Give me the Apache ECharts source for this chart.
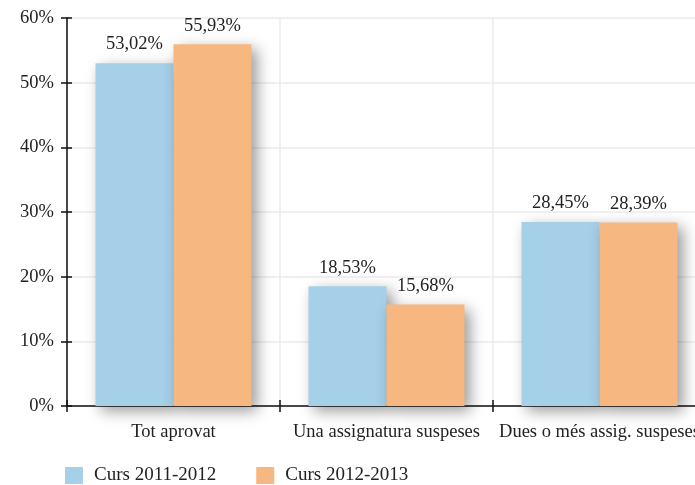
<!DOCTYPE html>
<html><head><meta charset="utf-8">
<script src="https://cdn.jsdelivr.net/npm/echarts@6/dist/echarts.min.js"></script>
<style>html,body{margin:0;padding:0;background:#fff}#c{width:695px;height:485px}</style>
</head><body><div id="c"></div>
<script>
const categories = ['Tot aprovat', 'Una assignatura suspeses', 'Dues o més assig. suspeses'];
const curs2011 = [53.02, 18.53, 28.45];
const curs2012 = [55.93, 15.68, 28.39];
const yTicks = [0, 10, 20, 30, 40, 50, 60];

const font = 'Liberation Serif';
const fs = 18.5;
const chart = echarts.init(document.getElementById('c'), null, {renderer: 'canvas'});
const fmt = v => v.toFixed(2).replace('.', ',') + '%';
const shadow = {shadowColor: 'rgba(0,0,0,0.4)', shadowBlur: 14, shadowOffsetX: 5, shadowOffsetY: 5};
chart.setOption({
  animation: false,
  textStyle: {fontFamily: font},
  grid: {left: 67, top: 18, bottom: 79, right: -11, containLabel: false, outerBoundsMode: 'none'},
  legend: {
    left: 65, top: 466, padding: 0, itemWidth: 18, itemHeight: 17, itemGap: 40,
    icon: 'rect',
    textStyle: {fontFamily: font, fontSize: 19, color: '#222', padding: [0, 0, 0, 6]},
    data: ['Curs 2011-2012', 'Curs 2012-2013']
  },
  xAxis: [{
    type: 'category', data: categories,
    axisLine: {lineStyle: {color: '#111', width: 1.5}},
    axisTick: {show: true, length: 6, lineStyle: {color: '#111', width: 1.5}},
    splitLine: {show: true, lineStyle: {color: '#ebebeb', width: 1.5}},
    axisLabel: {interval: 0, fontFamily: font, fontSize: fs, color: '#222', margin: 17}
  }, {
    type: 'category', data: categories, position: 'bottom',
    axisLine: {show: false},
    axisTick: {show: true, inside: true, length: 6, lineStyle: {color: '#111', width: 1.5}},
    axisLabel: {show: false}, splitLine: {show: false}
  }],
  yAxis: [{
    type: 'value', min: 0, max: 60, interval: 10,
    axisLine: {show: true, lineStyle: {color: '#111', width: 1.5}},
    axisTick: {show: true, length: 6, lineStyle: {color: '#111', width: 1.5}},
    splitLine: {show: true, lineStyle: {color: '#ebebeb', width: 1.5}},
    axisLabel: {fontFamily: font, fontSize: fs, color: '#222', margin: 13,
      formatter: v => yTicks.includes(v) ? v + '%' : ''}
  }, {
    type: 'value', min: 0, max: 60, interval: 10, position: 'left',
    axisLine: {show: false},
    axisTick: {show: true, inside: true, length: 5, lineStyle: {color: '#111', width: 1.5}},
    axisLabel: {show: false}, splitLine: {show: false}
  }],
  series: [{
    name: 'Curs 2011-2012', type: 'bar', data: curs2011,
    barWidth: 78, barGap: '0%',
    itemStyle: Object.assign({color: '#a6d0e8'}, shadow),
    label: {show: true, position: 'top', distance: 9, fontFamily: font, fontSize: fs, color: '#222',
      formatter: p => fmt(p.value)}
  }, {
    name: 'Curs 2012-2013', type: 'bar', data: curs2012,
    barWidth: 78, barGap: '0%',
    itemStyle: Object.assign({color: '#f7b781'}, shadow),
    label: {show: true, position: 'top', distance: 9, fontFamily: font, fontSize: fs, color: '#222',
      formatter: p => fmt(p.value)}
  }]
});
</script></body></html>
